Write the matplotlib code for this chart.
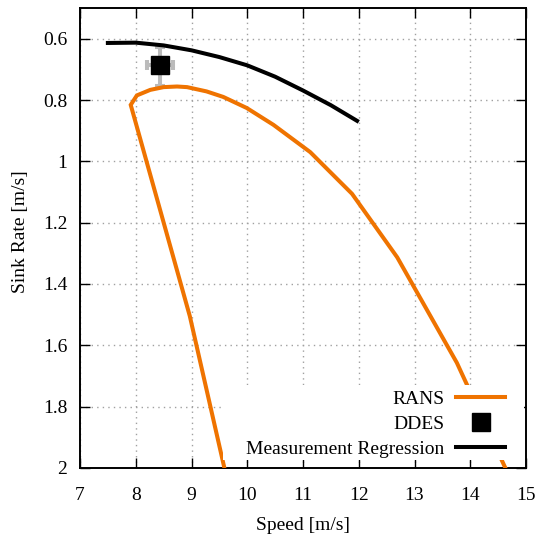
import matplotlib
matplotlib.use("Agg")
import matplotlib.pyplot as plt
from matplotlib.patches import Rectangle
from matplotlib.lines import Line2D

plt.rcParams['font.family'] = ['Liberation Serif', 'DejaVu Serif']
plt.rcParams['font.size'] = 14

# RANS polar (speed [m/s], sink rate [m/s])
rans_speed = [9.59, 8.97, 7.91, 8.02, 8.26, 8.50, 8.74, 8.92, 9.27, 9.57, 9.99, 10.47, 11.13, 11.88, 12.69, 13.76, 14.63]
rans_sink = [2.00, 1.505, 0.816, 0.785, 0.767, 0.758, 0.756, 0.758, 0.772, 0.790, 0.826, 0.881, 0.970, 1.106, 1.313, 1.657, 2.00]

# DDES point with error bars
ddes_speed = [8.43]
ddes_sink = [0.687]
ddes_speed_err = [[0.23], [0.24]]
ddes_sink_err = [[0.06], [0.068]]

# Measurement regression
meas_speed = [7.50, 8.00, 8.50, 9.00, 9.50, 10.00, 10.50, 11.00, 11.50, 11.97]
meas_sink = [0.614, 0.613, 0.622, 0.638, 0.660, 0.687, 0.724, 0.769, 0.817, 0.868]

xticks = [7, 8, 9, 10, 11, 12, 13, 14, 15]
yticks = [0.6, 0.8, 1.0, 1.2, 1.4, 1.6, 1.8, 2.0]
ytick_labels = ["0.6", "0.8", "1", "1.2", "1.4", "1.6", "1.8", "2"]

orange = '#ef7300'

fig = plt.figure(figsize=(5.42, 5.34), dpi=100)
ax = fig.add_axes([80/542, 1-468/534, 446/542, 460/534])

ax.plot(rans_speed, rans_sink, color=orange, lw=2.9, zorder=3, solid_joinstyle='miter')
ax.errorbar(ddes_speed, ddes_sink, xerr=ddes_speed_err, yerr=ddes_sink_err, fmt='none',
            ecolor='#bbbbbb', elinewidth=2.9, capsize=3.6, capthick=2.9, zorder=2)
ax.plot(ddes_speed, ddes_sink, 's', color='black', ms=13, zorder=3)
ax.plot(meas_speed, meas_sink, color='black', lw=2.9, zorder=3)

ax.set_xlim(7, 15)
ax.set_ylim(2.0, 0.5)
ax.set_xticks(xticks)
ax.set_yticks(yticks)
ax.set_yticklabels(ytick_labels)
ax.tick_params(direction='in', length=7, width=1, top=True, right=True, labelsize=14)
ax.tick_params(axis='x', pad=13.5)
ax.tick_params(axis='y', pad=9)
ax.grid(True, color='#a0a0a0', lw=1, linestyle=(0, (1, 3)))
ax.set_axisbelow(True)
for s in ax.spines.values():
    s.set_linewidth(1.4)

ax.set_xlabel('Speed [m/s]', fontsize=14, labelpad=9.5)
ax.set_ylabel('Sink Rate [m/s]', fontsize=14, labelpad=10)
ax.yaxis.label.set_y(0.514)

# opaque legend area
ax.add_patch(Rectangle(((223-80)/446, (468-460)/460), (526-223)/446 - 0.004, (460-385)/460,
                       transform=ax.transAxes, facecolor='white', edgecolor='none', zorder=4))

handles = [Line2D([], [], color=orange, lw=2.9),
           Line2D([], [], marker='s', color='black', ms=13, ls='none'),
           Line2D([], [], color='black', lw=2.9)]
labels = ['RANS', 'DDES', 'Measurement Regression']
ax.legend(handles, labels, loc='lower right', bbox_to_anchor=((505-80)/446, (468-458)/460),
          frameon=False, markerfirst=False, handlelength=2.5, handletextpad=0.6,
          labelspacing=0.38, borderpad=0, borderaxespad=0, fontsize=14)

fig.savefig('out.png', dpi=100)
